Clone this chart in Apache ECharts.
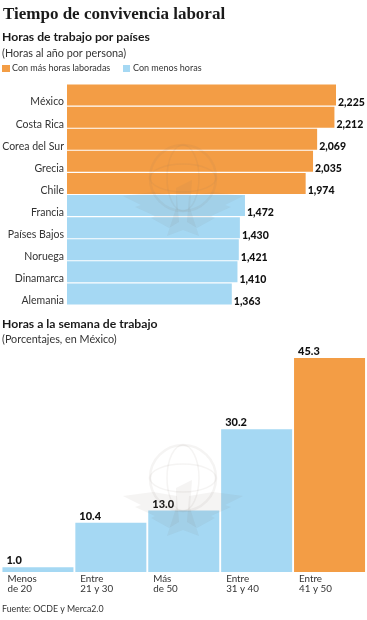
<!DOCTYPE html>
<html><head><meta charset="utf-8">
<style>html,body{margin:0;padding:0;background:#fff}#c{width:367px;height:620px}</style>
<script src="https://cdn.jsdelivr.net/npm/echarts@6/dist/echarts.min.js"></script>
</head><body><div id="c"></div>
<script>
const paises = ['México','Costa Rica','Corea del Sur','Grecia','Chile','Francia','Países Bajos','Noruega','Dinamarca','Alemania'];
const horasAnio = [2225,2212,2069,2035,1974,1472,1430,1421,1410,1363];
const rangos = ['Menos\nde 20','Entre\n21 y 30','Más\nde 50','Entre\n31 y 40','Entre\n41 y 50'];
const porcentajes = [1.0,10.4,13.0,30.2,45.3];
const masColor = '#F39D45', menosColor = '#A5D8F3';
const chart = echarts.init(document.getElementById('c'), null, {renderer:'canvas'});
const sans = 'Lato';
const txt = (x,y,s,size,weight,fam,col)=>({type:'text',left:x,top:y,z:10,style:{text:s,fontSize:size,fontWeight:weight,fontFamily:fam||sans,fill:col||'#222'}});
function mark(cx,cy){
  const c='rgba(130,120,100,0.08)';
  const wing=s=>({type:'polygon',silent:true,z:20,shape:{points:[[cx+s*6,cy+2],[cx+s*30,cy-2],[cx+s*60,cy+2],[cx+s*42,cy+11],[cx+s*48,cy+13],[cx+s*28,cy+22],[cx+s*32,cy+24],[cx+s*14,cy+34],[cx+s*4,cy+28]]},style:{fill:c}});
  return [
   {type:'circle',silent:true,z:20,shape:{cx:cx,cy:cy-16,r:33},style:{fill:'none',stroke:c,lineWidth:2.5}},
   {type:'ellipse',silent:true,z:20,shape:{cx:cx,cy:cy-16,rx:16,ry:33},style:{fill:'none',stroke:c,lineWidth:1.5}},
   {type:'ellipse',silent:true,z:20,shape:{cx:cx,cy:cy-16,rx:33,ry:14},style:{fill:'none',stroke:c,lineWidth:1.5}},
   wing(-1),wing(1),
   {type:'polygon',silent:true,z:20,shape:{points:[[cx-7,cy-6],[cx+9,cy-14],[cx+7,cy+14],[cx+16,cy+42],[cx,cy+36],[cx-16,cy+42],[cx-7,cy+14]]},style:{fill:c}}
  ];
}
chart.setOption({
  animation:false,
  backgroundColor:'#fff',
  grid:[
    {left:67,right:31,top:84,height:221,outerBoundsMode:'none'},
    {left:1.5,right:1,top:358,height:214,outerBoundsMode:'none'}
  ],
  xAxis:[
    {gridIndex:0,type:'value',min:0,max:2225,show:false},
    {gridIndex:1,type:'category',data:rangos,axisTick:{show:false},
     axisLine:{show:false},
     axisLabel:{margin:2,interval:0,formatter:v=>'{a|'+v+'}',
       rich:{a:{width:61,align:'left',fontFamily:sans,fontSize:9.8,lineHeight:10.2,color:'#333'}}}}
  ],
  yAxis:[
    {gridIndex:0,type:'category',inverse:true,data:paises,axisTick:{show:false},axisLine:{show:false},
     axisLabel:{margin:3,interval:0,fontFamily:sans,fontSize:10.5,lineHeight:14,color:'#333',verticalAlign:'top'}},
    {gridIndex:1,type:'value',min:0,max:45.3,show:false}
  ],
  series:[
    {type:'bar',xAxisIndex:0,yAxisIndex:0,barWidth:21,
     data:horasAnio.map((v,i)=>({value:v,itemStyle:{color:i<5?masColor:menosColor}})),
     label:{show:true,position:'right',distance:2,offset:[0,7.5],fontFamily:sans,fontWeight:900,fontSize:10.5,color:'#111',
       formatter:p=>p.value.toLocaleString('en-US')}},
    {type:'bar',xAxisIndex:1,yAxisIndex:1,barWidth:71,
     data:porcentajes.map((v,i)=>({value:v,itemStyle:{color:i===4?masColor:menosColor}})),
     label:{show:true,position:[4,-12],fontFamily:sans,fontWeight:900,fontSize:11,color:'#111',
       formatter:p=>p.value.toFixed(1)}}
  ],
  graphic:[
    txt(3,6,'Tiempo de convivencia laboral',17,'bold','Liberation Serif','#1a1a1a'),
    txt(2,31,'Horas de trabajo por países',12.2,'bold',sans,'#1a1a1a'),
    txt(2,48,'(Horas al año por persona)',10.8,'normal',sans,'#333'),
    {type:'rect',left:2,top:65,shape:{width:8,height:7},style:{fill:masColor}},
    txt(12,64,'Con más horas laboradas',9,'normal',sans,'#333'),
    {type:'rect',left:123,top:65,shape:{width:7,height:7},style:{fill:menosColor}},
    txt(133,64,'Con menos horas',9,'normal',sans,'#333'),
    txt(2,318,'Horas a la semana de trabajo',12.2,'bold',sans,'#1a1a1a'),
    txt(2,334,'(Porcentajes, en México)',10.8,'normal',sans,'#333'),
    txt(2,605,'Fuente: OCDE y Merca2.0',8.8,'normal',sans,'#333'),
    ...mark(183,194),
    ...mark(183,494)
  ]
});
</script></body></html>
